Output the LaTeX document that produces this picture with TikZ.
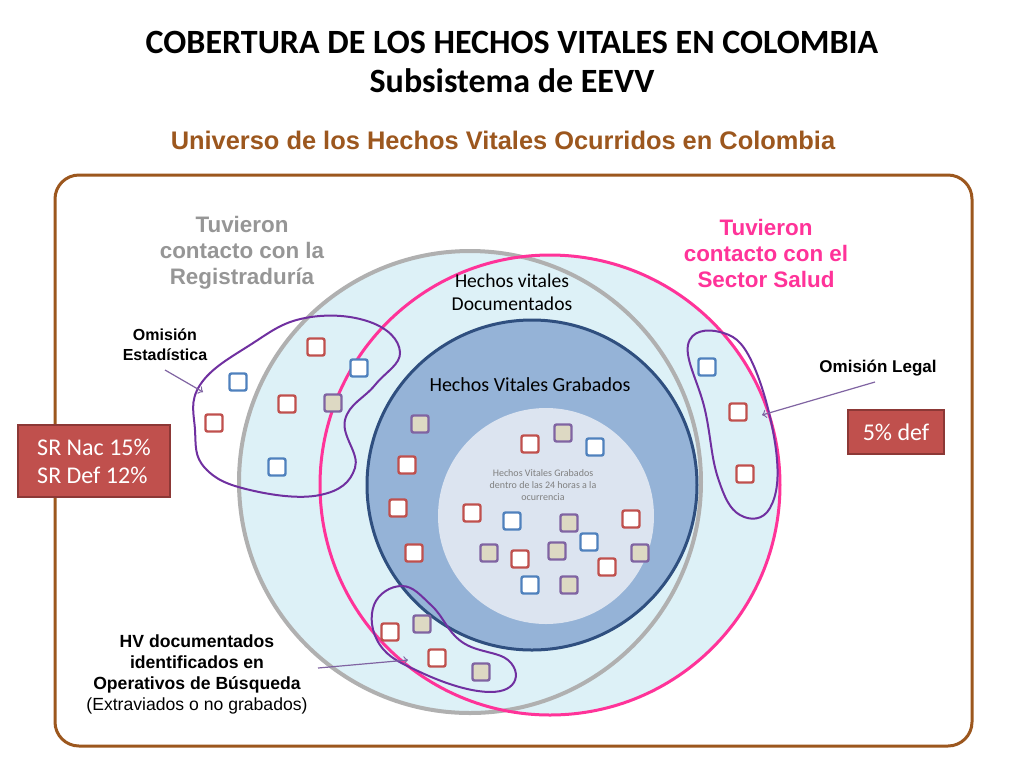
\documentclass[tikz,border=0pt]{standalone}
\usepackage{fontspec}
\setmainfont{Carlito}
\newfontfamily\arial{Liberation Sans}
\begin{document}
\begin{tikzpicture}[x=0.5pt,y=-0.5pt,
 sq/.style={draw,line width=1.2pt,rounded corners=1pt,minimum size=8.5pt,inner sep=0pt,fill=white},
 rsq/.style={sq,draw={rgb,255:red,192;green,80;blue,77}},
 bsq/.style={sq,draw={rgb,255:red,79;green,129;blue,189}},
 gsq/.style={sq,draw={rgb,255:red,128;green,100;blue,162},fill={rgb,255:red,221;green,217;blue,195}},
 blob/.style={draw={rgb,255:red,112;green,48;blue,160},line width=1pt},
 parr/.style={draw={rgb,255:red,128;green,100;blue,162},line width=0.6pt,->},
 redbox/.style={draw={rgb,255:red,140;green,56;blue,54},fill={rgb,255:red,192;green,80;blue,77},text=white,font=\fontsize{12}{14}\selectfont,align=left,line width=0.8pt}]
\useasboundingbox[fill=white] (0,0) rectangle (1024,768);
\node[font=\bfseries\fontsize{17}{19}\selectfont,align=center] (t1) at (512,42) {COBERTURA DE LOS HECHOS VITALES EN COLOMBIA};
\node[font=\bfseries\fontsize{17}{19}\selectfont] (t2) at (512,81) {Subsistema de EEVV};
\node[font=\arial\bfseries\fontsize{12.7}{15}\selectfont,text={rgb,255:red,156;green,87;blue,30}] (t3) at (503,140) {Universo de los Hechos Vitales Ocurridos en Colombia};
\draw[draw={rgb,255:red,156;green,87;blue,30},line width=1.5pt,rounded corners=12pt] (55,175) rectangle (972,746);
% circles
\fill[fill={rgb,255:red,221;green,241;blue,247}] (470,482) circle[radius=231];
\fill[fill={rgb,255:red,221;green,241;blue,247}] (550,485) circle[radius=230];
\draw[draw={rgb,255:red,176;green,176;blue,176},line width=2pt] (470,482) circle[radius=231];
\draw[draw={rgb,255:red,255;green,51;blue,153},line width=1.5pt] (550,485) circle[radius=230];
\draw[draw={rgb,255:red,47;green,79;blue,127},line width=1.5pt,fill={rgb,255:red,149;green,179;blue,215}] (532,485) circle[radius=165];
\fill[fill={rgb,255:red,220;green,228;blue,240}] (546,516) circle[radius=108];
% texts
\node[font=\fontsize{9.8}{11.5}\selectfont,align=center] (hd) at (512,292) {Hechos vitales\\Documentados};
\node[font=\fontsize{10}{12}\selectfont] (hg) at (530,385) {Hechos Vitales Grabados};
\node[font=\fontsize{5}{6}\selectfont,align=center,text=gray] (h24) at (543,485) {Hechos Vitales Grabados\\dentro de las 24 horas a la\\ocurrencia};
\node[font=\arial\bfseries\fontsize{11.2}{13}\selectfont,align=center,text={rgb,255:red,150;green,150;blue,150}] (reg) at (242,253) {Tuvieron\\contacto con la\\Registraduría};
\node[font=\arial\bfseries\fontsize{11.2}{13}\selectfont,align=center,text={rgb,255:red,255;green,51;blue,153}] (sal) at (766,253) {Tuvieron\\contacto con el\\Sector Salud};
\node[font=\arial\bfseries\fontsize{8}{10}\selectfont,align=center] (oe) at (165,345) {Omisión\\Estadística};
\node[font=\arial\bfseries\fontsize{8.5}{10}\selectfont] (ol) at (878,368) {Omisión Legal};
\node[font=\arial\fontsize{8.8}{10.5}\selectfont,align=center] (hv) at (197,674) {\textbf{HV documentados}\\\textbf{identificados en}\\\textbf{Operativos de Búsqueda}\\(Extraviados o no grabados)};
\node[redbox,minimum width=76pt,minimum height=36pt] (sr) at (94,461) {SR Nac 15\%\\SR Def 12\%};
\node[redbox,minimum width=48pt,minimum height=22pt] (d5) at (896,432) {5\% def};
% blobs
\draw[blob] plot[smooth cycle,tension=0.7] coordinates {(200,385) (250,345) (305,318) (370,322) (400,352) (375,385) (345,420) (355,468) (320,495) (250,490) (205,468) (195,430)};
\draw[blob] plot[smooth cycle,tension=0.7] coordinates {(688,345) (720,332) (752,362) (776,450) (770,508) (740,515) (718,478) (705,410)};
\draw[blob] plot[smooth cycle,tension=0.7] coordinates {(374,605) (402,586) (432,606) (462,642) (508,660) (512,685) (478,691) (420,672) (380,645)};
\coordinate (a1) at (165,370); \coordinate (a1e) at (203,392);
\coordinate (a2) at (875,382); \coordinate (a2e) at (762,415);
\coordinate (a3) at (318,668); \coordinate (a3e) at (408,660);
\draw[parr] (a1) -- (a1e);
\draw[parr] (a2) -- (a2e);
\draw[parr] (a3) -- (a3e);
% squares
\foreach \x/\y [count=\i] in {316/347,287/404,214/423,407/465,398/508,414/553,472/513,530/444,631/519,520/559,607/567,738/412,745/474,390/632,437/658}
  \node[rsq] (r\i) at (\x,\y) {};
\foreach \x/\y [count=\i] in {238/382,359/368,277/467,595/447,512/521,589/542,530/585,707/367}
  \node[bsq] (b\i) at (\x,\y) {};
\foreach \x/\y [count=\i] in {333/403,420/424,563/433,569/523,489/553,557/551,640/553,569/585,422/624,481/672}
  \node[gsq] (g\i) at (\x,\y) {};
\end{tikzpicture}
\end{document}
